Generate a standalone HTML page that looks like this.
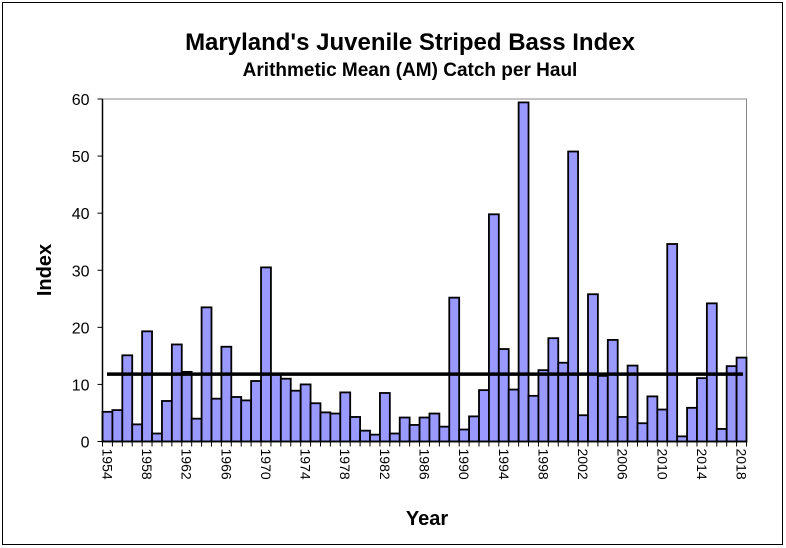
<!DOCTYPE html>
<html><head><meta charset="utf-8"><style>
html,body{margin:0;padding:0;background:#fff;}
svg{display:block;font-family:"Liberation Sans",Arial,sans-serif;}
</style></head><body>
<svg id="s" width="786" height="548" xmlns="http://www.w3.org/2000/svg">
<rect x="2.5" y="2.5" width="780" height="542" fill="#fff" stroke="#000" stroke-width="1"/>
<text x="410" y="50" text-anchor="middle" font-size="24" font-weight="bold">Maryland's Juvenile Striped Bass Index</text>
<text x="410" y="76" text-anchor="middle" font-size="19" font-weight="bold">Arithmetic Mean (AM) Catch per Haul</text>
<text x="427" y="525" text-anchor="middle" font-size="20" font-weight="bold">Year</text>
<text transform="translate(51,270) rotate(-90)" text-anchor="middle" font-size="20" font-weight="bold">Index</text>
<g id="g"></g>
</svg>
<script>
var v=[5.2,5.5,15.1,3.0,19.3,1.4,7.1,17.0,12.2,4.0,23.5,7.5,16.6,7.8,7.2,10.6,30.5,11.8,11.0,8.9,10.0,6.7,5.1,4.9,8.6,4.3,1.9,1.2,8.5,1.4,4.2,2.9,4.2,4.9,2.6,25.2,2.1,4.4,9.0,39.8,16.2,9.1,59.4,8.0,12.5,18.1,13.8,50.8,4.6,25.8,11.5,17.8,4.3,13.3,3.2,7.9,5.6,34.6,0.9,5.9,11.1,24.2,2.2,13.2,14.7];
var L=102.5,R=746.5,T=99,B=441.5,w=(R-L)/65,s='';
s+='<rect x="'+L+'" y="'+T+'" width="'+(R-L)+'" height="'+(B-T)+'" fill="none" stroke="#888" stroke-width="1"/>';
for(var i=0;i<=6;i++){var y=B-i*(B-T)/6;s+='<line x1="'+(L-5)+'" y1="'+y+'" x2="'+L+'" y2="'+y+'" stroke="#000"/>';s+='<text x="'+(L-13)+'" y="'+(y+6)+'" text-anchor="end" font-size="16">'+(i*10)+'</text>';}
for(var i=0;i<65;i++){var x=L+i*w,h=v[i]/60*(B-T);s+='<rect x="'+x+'" y="'+(B-h)+'" width="'+w+'" height="'+h+'" fill="#9999ff" stroke="#000" stroke-width="1.8"/>';}
for(var i=0;i<=65;i++){var x=L+i*w;s+='<line x1="'+x+'" y1="'+B+'" x2="'+x+'" y2="'+(B+5)+'" stroke="#000"/>';}
s+='<line x1="'+L+'" y1="'+B+'" x2="'+R+'" y2="'+B+'" stroke="#000" stroke-width="1.5"/>';
s+='<line x1="'+L+'" y1="'+T+'" x2="'+L+'" y2="'+B+'" stroke="#000" stroke-width="1.5"/>';
for(var i=0;i<65;i+=4){var x=L+i*w+w/2-5;s+='<text transform="translate('+x+','+(B+7)+') rotate(90)" font-size="14">'+(1954+i)+'</text>';}
var my=B-11.8/60*(B-T);
s+='<line x1="107" y1="'+my+'" x2="743" y2="'+my+'" stroke="#000" stroke-width="3.5"/>';
document.getElementById('g').innerHTML=s;
</script>
</body></html>
